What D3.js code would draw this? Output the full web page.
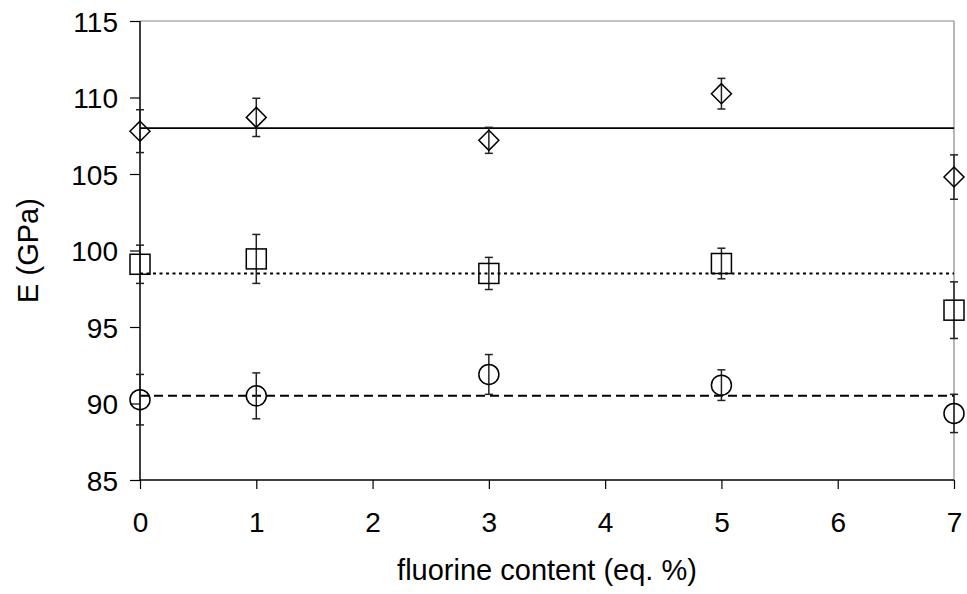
<!DOCTYPE html>
<html><head><meta charset="utf-8">
<script src="https://cdn.jsdelivr.net/npm/d3@7"></script>
<style>body{margin:0;background:#fff}svg{display:block}text{font-family:"Liberation Sans",Arial,sans-serif;fill:#000}</style>
</head><body><svg id="c" width="967" height="594"></svg>
<script>
const xVals = [0, 1, 3, 5, 7];
const diamondE = [107.8, 108.7, 107.2, 110.25, 104.8];
const diamondErr = [1.4, 1.25, 0.85, 1.0, 1.45];
const squareE = [99.1, 99.45, 98.5, 99.15, 96.1];
const squareErr = [1.25, 1.6, 1.05, 1.0, 1.85];
const circleE = [90.25, 90.5, 91.9, 91.2, 89.35];
const circleErr = [1.65, 1.5, 1.3, 1.0, 1.25];
const meanLines = [108.0, 98.5, 90.5];
const xTicks = [0,1,2,3,4,5,6,7];
const yTicks = [85,90,95,100,105,110,115];

const svg = d3.select("#c");
const x = d3.scaleLinear().domain([0,7]).range([140,954]);
const y = d3.scaleLinear().domain([85,115]).range([480,21]);
const FS = "28px";

// frame top/right (grey)
svg.append("line").attr("x1",140).attr("x2",954).attr("y1",y(115)).attr("y2",y(115)).attr("stroke","#888").attr("stroke-width",1.2);
svg.append("line").attr("x1",954).attr("x2",954).attr("y1",y(115)).attr("y2",y(85)).attr("stroke","#888").attr("stroke-width",1.2);

// axes
const yAx = svg.append("g").attr("transform","translate(140,0)")
  .call(d3.axisLeft(y).tickValues(yTicks).tickFormat(d3.format("d")).tickSize(10).tickPadding(12));
const xAx = svg.append("g").attr("transform","translate(0,480)")
  .call(d3.axisBottom(x).tickValues(xTicks).tickFormat(d3.format("d")).tickSize(9).tickPadding(23));
[yAx,xAx].forEach(g=>{
  g.attr("font-size",null).attr("font-family",null);
  g.select(".domain").attr("stroke","#000").attr("stroke-width",1.5);
  g.selectAll(".tick line").attr("stroke","#000").attr("stroke-width",1.2);
  g.selectAll("text").style("font-size",FS).style("font-family","Liberation Sans, Arial, sans-serif").attr("fill","#000");
});
yAx.selectAll("text").attr("dy","0.36em");
yAx.select(".domain").attr("d","M0,"+y(115)+"V"+y(85));
xAx.select(".domain").attr("d","M"+x(0)+",0H"+x(7));

// mean lines
const dashes = [null, "3,3.5", "9,5"];
meanLines.forEach((v,i)=>{
  const l = svg.append("line").attr("x1",x(0)).attr("x2",x(7)).attr("y1",y(v)).attr("y2",y(v))
    .attr("stroke","#000").attr("stroke-width",i===0?1.6:2);
  if(dashes[i]) l.attr("stroke-dasharray",dashes[i]);
});

function errBars(vals, errs){
  const g = svg.append("g").attr("stroke","#222").attr("stroke-width",1.5);
  xVals.forEach((xv,i)=>{
    const cx = x(xv), t = y(vals[i]+errs[i]), b = y(vals[i]-errs[i]);
    g.append("line").attr("x1",cx).attr("x2",cx).attr("y1",t).attr("y2",b);
    g.append("line").attr("x1",cx-4).attr("x2",cx+4).attr("y1",t).attr("y2",t);
    g.append("line").attr("x1",cx-4).attr("x2",cx+4).attr("y1",b).attr("y2",b);
  });
}
function markers(vals, type){
  const g = svg.append("g").attr("fill","none").attr("stroke","#000").attr("stroke-width",1.5);
  xVals.forEach((xv,i)=>{
    const cx = x(xv), cy = y(vals[i]);
    if(type==="diamond") g.append("path").attr("d",`M${cx},${cy-10}L${cx+10},${cy}L${cx},${cy+10}L${cx-10},${cy}Z`);
    else if(type==="square") g.append("rect").attr("x",cx-10).attr("y",cy-10).attr("width",20).attr("height",20);
    else g.append("circle").attr("cx",cx).attr("cy",cy).attr("r",10);
  });
}
errBars(diamondE, diamondErr); markers(diamondE,"diamond");
errBars(squareE, squareErr); markers(squareE,"square");
errBars(circleE, circleErr); markers(circleE,"circle");

// titles
svg.append("text").attr("x",(140+954)/2).attr("y",580).attr("text-anchor","middle").style("font-size","29px").text("fluorine content (eq. %)");
svg.append("text").attr("transform","translate(38,250.5) rotate(-90)").attr("text-anchor","middle").style("font-size","29px").text("E (GPa)");
</script></body></html>
